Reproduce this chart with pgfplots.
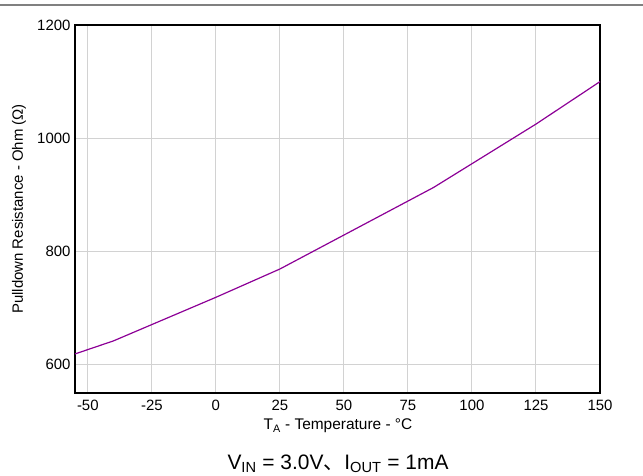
\documentclass[border=0pt]{standalone}
\usepackage{fontspec}
\setmainfont{Liberation Sans}
\newfontfamily\cjk{Noto Sans CJK SC}
\usepackage{pgfplots}
\pgfplotsset{compat=1.18}
\definecolor{curve}{RGB}{140,0,150}
\definecolor{gridc}{RGB}{210,210,210}
\definecolor{rulec}{RGB}{128,128,128}
\begin{document}
\begin{tikzpicture}
\path[use as bounding box] (-75bp,-83bp) rectangle (568bp,393bp);
\draw[rulec, line width=2.5bp] (-75bp,388bp) -- (568bp,388bp);
\begin{axis}[
  at={(0,0)}, anchor=south west,
  scale only axis, width=525bp, height=368bp,
  xmin=-55, xmax=150, ymin=550, ymax=1200,
  xtick={-50,-25,0,25,50,75,100,125,150},
  ytick={600,800,1000,1200},
  grid=major,
  major grid style={gridc, line width=1bp},
  axis line style={black, line width=1.8bp},
  major tick length=0pt,
  tick label style={font=\fontsize{15}{17}\selectfont},
  /pgf/number format/assume math mode=true,
  /pgf/number format/1000 sep={},
  xticklabel style={yshift=-4bp},
  yticklabel style={xshift=-1bp},
  clip=false,
]
\addplot[curve, line width=1.2bp] coordinates {
  (-55,619) (-40,642) (0,719) (25,769) (85,913) (125,1025) (150,1100)
};
\end{axis}
\node[rotate=90, font=\fontsize{15}{17}\selectfont] at (-56bp,184bp) {Pulldown Resistance - Ohm (Ω)};
\node[font=\fontsize{15.5}{17}\selectfont] at (263bp,-33bp) {T\textsubscript{A} - Temperature - °C};
\node[font=\fontsize{21}{24}\selectfont] at (263bp,-71bp) {V\textsubscript{IN} = 3.0V{\cjk 、}I\textsubscript{OUT} = 1mA};
\end{tikzpicture}
\end{document}
